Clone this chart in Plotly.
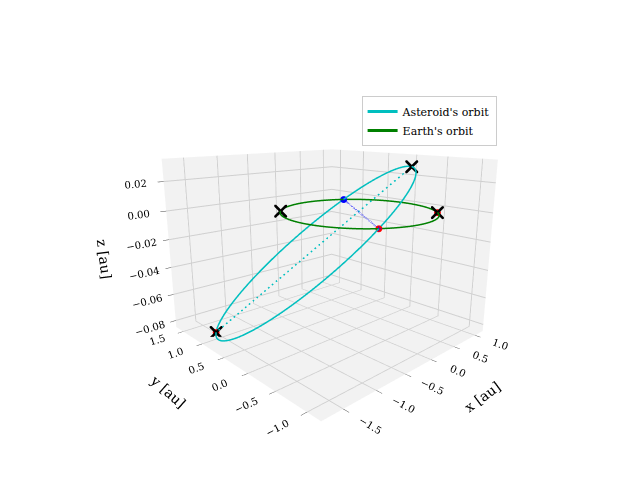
import numpy as np
import plotly.graph_objects as go

# orbital elements
ast_p = 1.0           # semi-latus rectum [au]
ast_e = 0.47
ast_inc_deg = 2.5
ast_node_deg = 235.0  # longitude of node
ast_peri_deg = 90.0   # argument of perihelion
earth_r = 1.0

earth_marks_x = [-0.707, 0.707]
earth_marks_y = [0.707, -0.707]
node_dot = [0.574, 0.819, 0.0]
node_plus = [-0.574, -0.819, 0.0]

xticks = [-1.5, -1.0, -0.5, 0.0, 0.5, 1.0]
yticks = [-1.0, -0.5, 0.0, 0.5, 1.0, 1.5]
zticks = [-0.08, -0.06, -0.04, -0.02, 0.0, 0.02]


def orbit_xyz(nu):
    r = ast_p / (1 + ast_e * np.cos(nu))
    i, O, w = np.radians([ast_inc_deg, ast_node_deg, ast_peri_deg])
    u = nu + w
    x = r * (np.cos(O) * np.cos(u) - np.sin(O) * np.sin(u) * np.cos(i))
    y = r * (np.sin(O) * np.cos(u) + np.cos(O) * np.sin(u) * np.cos(i))
    z = r * np.sin(u) * np.sin(i)
    return x, y, z


nu = np.linspace(0, 2 * np.pi, 400)
ax_, ay_, az_ = orbit_xyz(nu)
th = np.linspace(0, 2 * np.pi, 300)
ex, ey = earth_r * np.cos(th), earth_r * np.sin(th)
px, py, pz = orbit_xyz(np.array([0.0, np.pi]))  # perihelion, aphelion

fig = go.Figure()
fig.add_trace(go.Scatter3d(x=ax_, y=ay_, z=az_, mode='lines', line=dict(color='#00bfbf', width=3), name="Asteroid's orbit"))
fig.add_trace(go.Scatter3d(x=ex, y=ey, z=0 * ex, mode='lines', line=dict(color='green', width=3), name="Earth's orbit"))
fig.add_trace(go.Scatter3d(x=px, y=py, z=pz, mode='lines', line=dict(color='#00bfbf', width=3, dash='dash'), showlegend=False))
fig.add_trace(go.Scatter3d(x=[node_dot[0], node_plus[0]], y=[node_dot[1], node_plus[1]], z=[0, 0], mode='lines',
                           line=dict(color='blue', width=3, dash='dash'), showlegend=False))
fig.add_trace(go.Scatter3d(x=[px[1], earth_marks_x[1], node_plus[0]], y=[py[1], earth_marks_y[1], node_plus[1]], z=[pz[1], 0, 0],
                           mode='markers', marker=dict(color='red', size=4), showlegend=False))
fig.add_trace(go.Scatter3d(x=list(px) + earth_marks_x, y=list(py) + earth_marks_y, z=list(pz) + [0, 0],
                           mode='markers', marker=dict(color='black', size=3, symbol='x'), showlegend=False))
fig.add_trace(go.Scatter3d(x=[node_dot[0]], y=[node_dot[1]], z=[0], mode='markers',
                           marker=dict(color='blue', size=4), showlegend=False))
fig.add_trace(go.Scatter3d(x=[node_plus[0]], y=[node_plus[1]], z=[0], mode='markers',
                           marker=dict(color='blue', size=3, symbol='cross'), showlegend=False))

axis = dict(backgroundcolor='#f2f2f2', gridcolor='#d0d0d0', showbackground=True, zeroline=False,
            tickfont=dict(size=11), ticks='outside', title_font=dict(size=17))
fig.update_layout(
    width=640, height=480, paper_bgcolor='white',
    font=dict(family='DejaVu Serif', color='black'),
    margin=dict(l=40, r=40, t=40, b=40),
    legend=dict(x=0.56, y=0.88, bordercolor='#cccccc', borderwidth=1, font=dict(size=11)),
    scene=dict(
        xaxis=dict(axis, range=[-1.8, 1.2], tickvals=xticks, tickformat='.1f', title='x [au]'),
        yaxis=dict(axis, range=[-1.2, 1.7], tickvals=yticks, tickformat='.1f', title='y [au]'),
        zaxis=dict(axis, range=[-0.085, 0.035], tickvals=zticks, tickformat='.2f', title='z [au]'),
        aspectmode='manual', aspectratio=dict(x=1.1, y=1.1, z=0.85),
        camera=dict(eye=dict(x=-1.55, y=-1.65, z=0.6)),
    ),
)
fig.write_html("out.html")
